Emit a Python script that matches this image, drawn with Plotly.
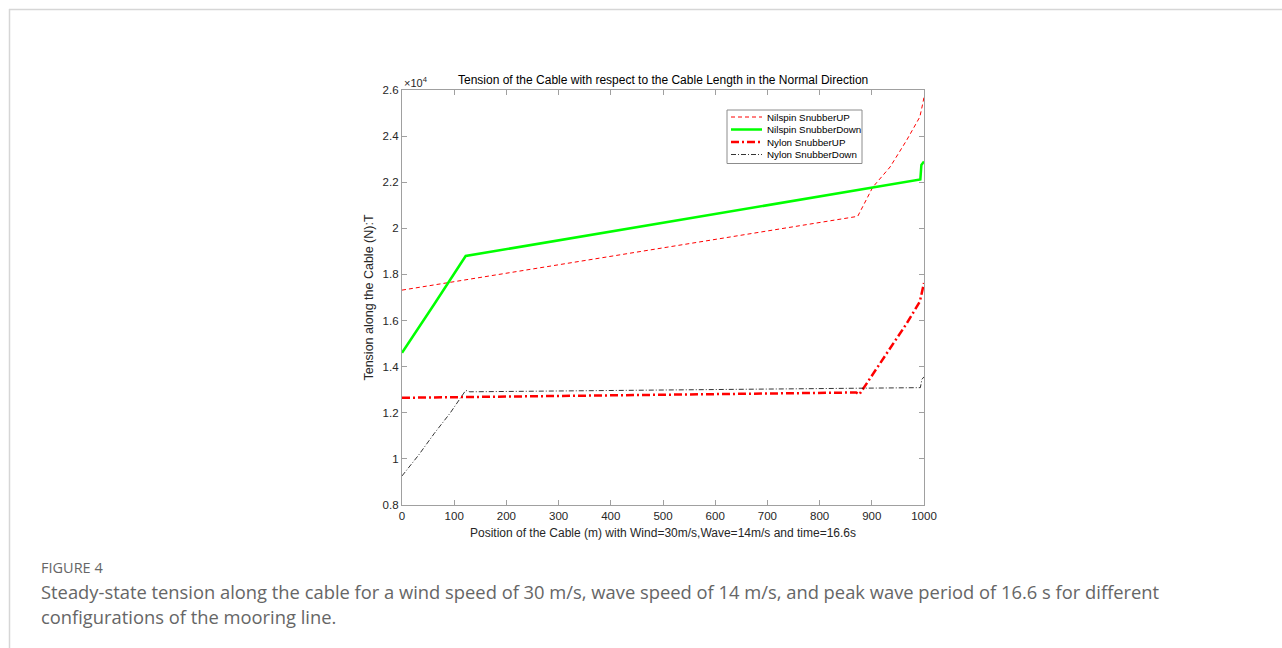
import plotly.graph_objects as go

# ---- data (tension in units of 1e4 N) ----
nil_up_x = [0, 873, 902, 935, 967, 992, 998, 1000]
nil_up_y = [1.732, 2.052, 2.179, 2.266, 2.383, 2.483, 2.545, 2.569]

nil_down_x = [0, 32, 62, 92, 122, 993, 995, 1000]
nil_down_y = [1.46, 1.567, 1.672, 1.776, 1.88, 2.212, 2.275, 2.29]

nyl_up_x = [0, 870, 876, 903, 935, 967, 992, 998, 1000]
nyl_up_y = [1.265, 1.288, 1.279, 1.371, 1.48, 1.588, 1.682, 1.74, 1.763]

nyl_down_x = [0, 32, 62, 92, 122, 130, 993, 996, 1000]
nyl_down_y = [0.926, 1.017, 1.111, 1.198, 1.297, 1.291, 1.309, 1.345, 1.356]

series_names = ["Nilspin SnubberUP", "Nilspin SnubberDown", "Nylon SnubberUP", "Nylon SnubberDown"]

x_ticks = list(range(0, 1001, 100))
y_ticks = [0.8, 1.0, 1.2, 1.4, 1.6, 1.8, 2.0, 2.2, 2.4, 2.6]

title_text = "Tension of the Cable with respect to the Cable Length in the Normal Direction"
xlabel = "Position of the Cable (m) with Wind=30m/s,Wave=14m/s and time=16.6s"
ylabel = "Tension along the Cable (N):T"
fig_label = "FIGURE 4"
caption_1 = "Steady-state tension along the cable for a wind speed of 30 m/s, wave speed of 14 m/s, and peak wave period of 16.6 s for different"
caption_2 = "configurations of the mooring line."

# ---- layout geometry (pixels) ----
W, H = 1282, 648
L, R, T, B = 402, 924, 90, 505
pw, ph = R - L, B - T


def px(xp):
    return (xp - L) / pw


def py(yp):
    return (B - yp) / ph


FONT = "Liberation Sans, Arial, sans-serif"
CAP_FONT = "Open Sans, sans-serif"
AX = "#a0a0a0"
TXT = "#262626"
CAP_COL = "#666666"

styles = [
    dict(color="#ff0000", width=1, dash="4px,3px"),
    dict(color="#00ff00", width=2.5),
    dict(color="#ff0000", width=2.5, dash="8px,3px,2px,3px"),
    dict(color="#000000", width=0.8, dash="5px,2px,1px,2px"),
]

fig = go.Figure()
for xs, ys, nm, st in zip([nil_up_x, nil_down_x, nyl_up_x, nyl_down_x],
                          [nil_up_y, nil_down_y, nyl_up_y, nyl_down_y],
                          series_names, styles):
    fig.add_trace(go.Scatter(x=xs, y=ys, mode="lines", name=nm, line=st, showlegend=False))

axis_common = dict(showline=True, linecolor=AX, linewidth=1.2, mirror="allticks",
                   ticks="inside", ticklen=5, tickcolor=AX, tickwidth=1,
                   showgrid=False, zeroline=False,
                   tickfont=dict(family=FONT, size=11.5, color=TXT))

fig.update_xaxes(range=[0, 1000], tickvals=x_ticks, **axis_common,
                 title=dict(text=xlabel, font=dict(family=FONT, size=12, color=TXT), standoff=7))
fig.update_yaxes(range=[0.8, 2.6], tickvals=y_ticks, **axis_common,
                 title=dict(text=ylabel, font=dict(family=FONT, size=12.5, color=TXT), standoff=6))

annotations = [
    dict(text=title_text, x=0.5, y=py(80), xref="paper", yref="paper", showarrow=False,
         font=dict(family=FONT, size=12, color="#000000"), xanchor="center", yanchor="middle"),
    dict(text="\u00d710<sup>4</sup>", x=px(402), y=py(82), xref="paper", yref="paper", showarrow=False,
         font=dict(family=FONT, size=11, color=TXT), xanchor="left", yanchor="middle"),
    dict(text=fig_label, x=px(39), y=py(567), xref="paper", yref="paper", showarrow=False,
         font=dict(family=CAP_FONT, size=14.5, color=CAP_COL), xanchor="left", yanchor="middle"),
    dict(text=caption_1, x=px(39), y=py(591), xref="paper", yref="paper", showarrow=False,
         font=dict(family=CAP_FONT, size=18.35, color=CAP_COL), xanchor="left", yanchor="middle"),
    dict(text=caption_2, x=px(39), y=py(616), xref="paper", yref="paper", showarrow=False,
         font=dict(family=CAP_FONT, size=18.35, color=CAP_COL), xanchor="left", yanchor="middle"),
]

shapes = [
    dict(type="line", xref="paper", yref="paper", x0=px(9), x1=px(1282), y0=py(9.5), y1=py(9.5),
         line=dict(color="#d6d6d6", width=1.5)),
    dict(type="line", xref="paper", yref="paper", x0=px(9.5), x1=px(9.5), y0=py(9), y1=py(648),
         line=dict(color="#d6d6d6", width=1.5)),
    # legend box
    dict(type="rect", xref="paper", yref="paper", x0=px(727), x1=px(862), y0=py(110), y1=py(163.5),
         line=dict(color="#8c8c8c", width=1), fillcolor="white", layer="above"),
]

# custom legend entries
row_y = [117, 129.5, 142, 154.5]
for nm, st, ry in zip(series_names, styles, row_y):
    shapes.append(dict(type="line", xref="paper", yref="paper", x0=px(731), x1=px(762),
                       y0=py(ry), y1=py(ry), line=st, layer="above"))
    annotations.append(dict(text=nm, x=px(765), y=py(ry), xref="paper", yref="paper", showarrow=False,
                            font=dict(family=FONT, size=9.8, color="#000000"),
                            xanchor="left", yanchor="middle"))

fig.update_layout(
    width=W, height=H,
    margin=dict(l=L, r=W - R, t=T, b=H - B),
    paper_bgcolor="white", plot_bgcolor="white",
    showlegend=False,
    annotations=annotations,
    shapes=shapes,
)

fig.write_html("out.html")
